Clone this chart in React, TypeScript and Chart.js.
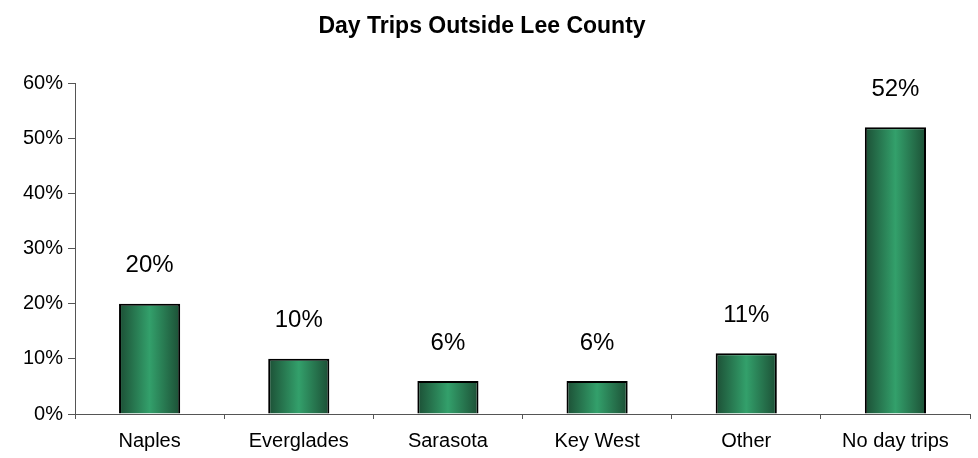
import React, { useEffect, useRef } from "react";
import { Chart, registerables } from "chart.js";

Chart.register(...registerables);

const categories = ["Naples", "Everglades", "Sarasota", "Key West", "Other", "No day trips"];
const values = [20, 10, 6, 6, 11, 52];
const yTicks = [0, 10, 20, 30, 40, 50, 60];
const title = "Day Trips Outside Lee County";

const FONT = "Arial, 'Liberation Sans', sans-serif";

const labelPlugin = {
  id: "valueLabels",
  afterDatasetsDraw(chart: any) {
    const ctx = chart.ctx;
    const meta = chart.getDatasetMeta(0);
    ctx.save();
    ctx.font = `24px ${FONT}`;
    ctx.fillStyle = "#000";
    ctx.textAlign = "center";
    ctx.textBaseline = "middle";
    meta.data.forEach((el: any, i: number) => {
      ctx.fillText(`${values[i]}%`, el.x, el.y - 38);
    });
    ctx.restore();
  },
};

const titlePlugin = {
  id: "customTitle",
  afterDraw(chart: any) {
    const ctx = chart.ctx;
    ctx.save();
    ctx.font = `bold 23px ${FONT}`;
    ctx.fillStyle = "#000";
    ctx.textAlign = "center";
    ctx.textBaseline = "middle";
    ctx.fillText(title, 482, 27);
    ctx.restore();
  },
};

export default function App() {
  const ref = useRef<HTMLCanvasElement>(null);
  useEffect(() => {
    if (!ref.current) return;
    const catPct = 0.41;
    const chart = new Chart(ref.current, {
      type: "bar",
      data: {
        labels: categories,
        datasets: [
          {
            data: values,
            borderColor: "#000",
            borderWidth: 2,
            borderSkipped: "bottom",
            categoryPercentage: catPct,
            barPercentage: 1,
            backgroundColor: (c: any) => {
              const ch = c.chart;
              const xs = ch.scales?.x;
              const area = ch.chartArea;
              if (!xs || !area || c.dataIndex === undefined) return "#2a8a5a";
              const cx = xs.getPixelForValue(c.dataIndex);
              const w = ((area.right - area.left) / categories.length) * catPct;
              const g = ch.ctx.createLinearGradient(cx - w / 2, 0, cx + w / 2, 0);
              g.addColorStop(0, "#1c4f35");
              g.addColorStop(0.5, "#33a06b");
              g.addColorStop(1, "#1c4f35");
              return g;
            },
          },
        ],
      },
      options: {
        responsive: false,
        animation: false,
        layout: { padding: { top: 83, right: 8, left: 18, bottom: -5 } },
        plugins: {
          legend: { display: false },
          title: { display: false },
          tooltip: { enabled: false },
        },
        scales: {
          x: {
            offset: true,
            grid: {
              offset: true,
              drawOnChartArea: false,
              drawTicks: true,
              tickLength: 5,
              color: "#555",
            },
            border: { color: "#555", width: 1 },
            ticks: {
              color: "#000",
              font: { family: FONT, size: 20 },
              padding: 10,
              maxRotation: 0,
            },
          },
          y: {
            min: 0,
            max: 60,
            afterBuildTicks: (s: any) => {
              s.ticks = yTicks.map((v) => ({ value: v }));
            },
            grid: {
              drawOnChartArea: false,
              drawTicks: true,
              tickLength: 7,
              color: "#555",
            },
            border: { color: "#555", width: 1 },
            ticks: {
              color: "#000",
              font: { family: FONT, size: 20 },
              padding: 5,
              callback: (v: any) => `${v}%`,
            },
          },
        },
      },
      plugins: [labelPlugin, titlePlugin],
    });
    return () => chart.destroy();
  }, []);
  return (
    <div style={{ position: "fixed", left: 0, top: 0, width: 978, height: 458, background: "#fff" }}>
      <canvas ref={ref} width={978} height={458} style={{ width: 978, height: 458 }} />
    </div>
  );
}
